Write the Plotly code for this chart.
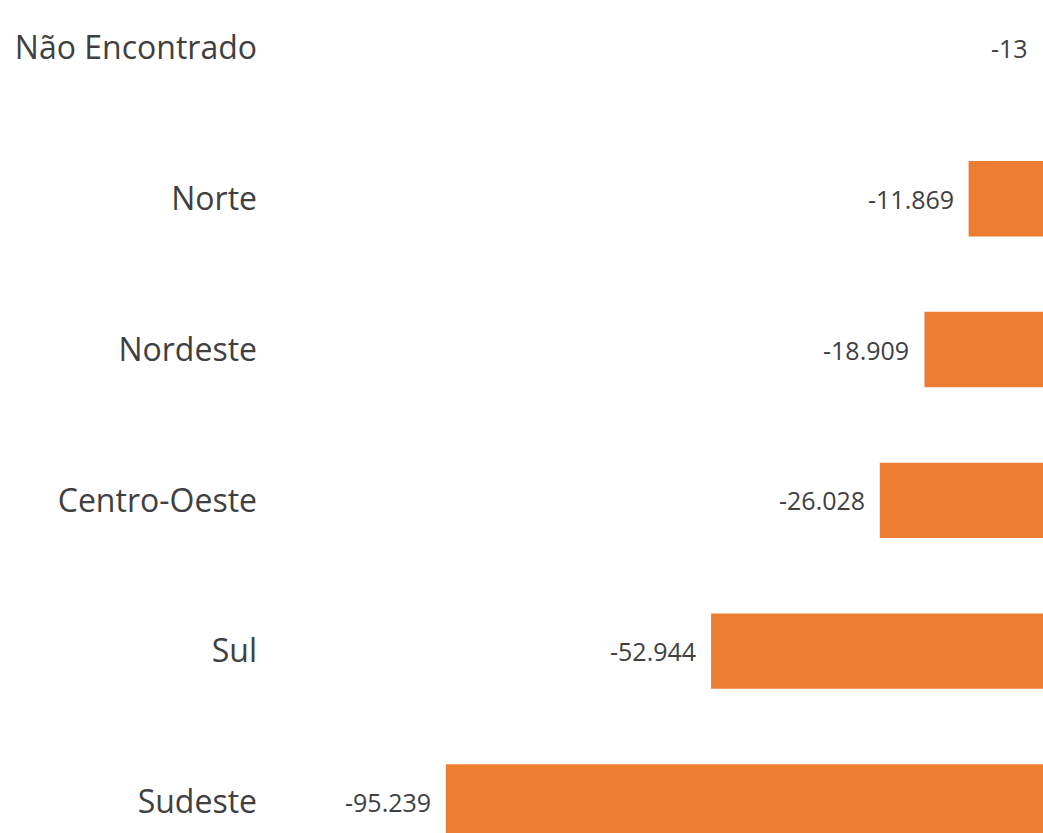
import plotly.graph_objects as go

categories = ["Sudeste", "Sul", "Centro-Oeste", "Nordeste", "Norte", "Não Encontrado"]
values = [-95239, -52944, -26028, -18909, -11869, -13]
labels = ["-95.239", "-52.944", "-26.028", "-18.909", "-11.869", "-13"]

bar_color = "#ED7D31"
text_color = "#404040"
# sub-pixel bars are invisible in the reference
bar_colors = [bar_color, bar_color, bar_color, bar_color, bar_color, "rgba(0,0,0,0)"]

fig = go.Figure()
fig.add_trace(go.Bar(
    x=values, y=categories, orientation="h",
    marker=dict(color=bar_colors, line=dict(width=0)),
    width=0.5, hoverinfo="skip",
))

for v, c, t in zip(values, categories, labels):
    fig.add_annotation(x=v, y=c, text=t, showarrow=False, xanchor="right",
                       xshift=-13, yshift=0,
                       font=dict(family="Open Sans", size=25, color=text_color))

fig.update_layout(
    width=1043, height=833,
    margin=dict(l=270, r=0, t=0, b=0),
    paper_bgcolor="white", plot_bgcolor="white",
    showlegend=False,
    xaxis=dict(range=[-123.3e3, 0], visible=False, fixedrange=True),
    yaxis=dict(categoryorder="array", categoryarray=categories,
               range=[-0.206, 5.318], showgrid=False, zeroline=False,
               showline=False, ticks="", fixedrange=True,
               tickfont=dict(family="Open Sans", size=32, color=text_color),
               ticklabelstandoff=12),
)

fig.write_html("out.html", config={"displayModeBar": False},
               post_script="document.body.style.margin='0';document.body.style.overflow='hidden';")
